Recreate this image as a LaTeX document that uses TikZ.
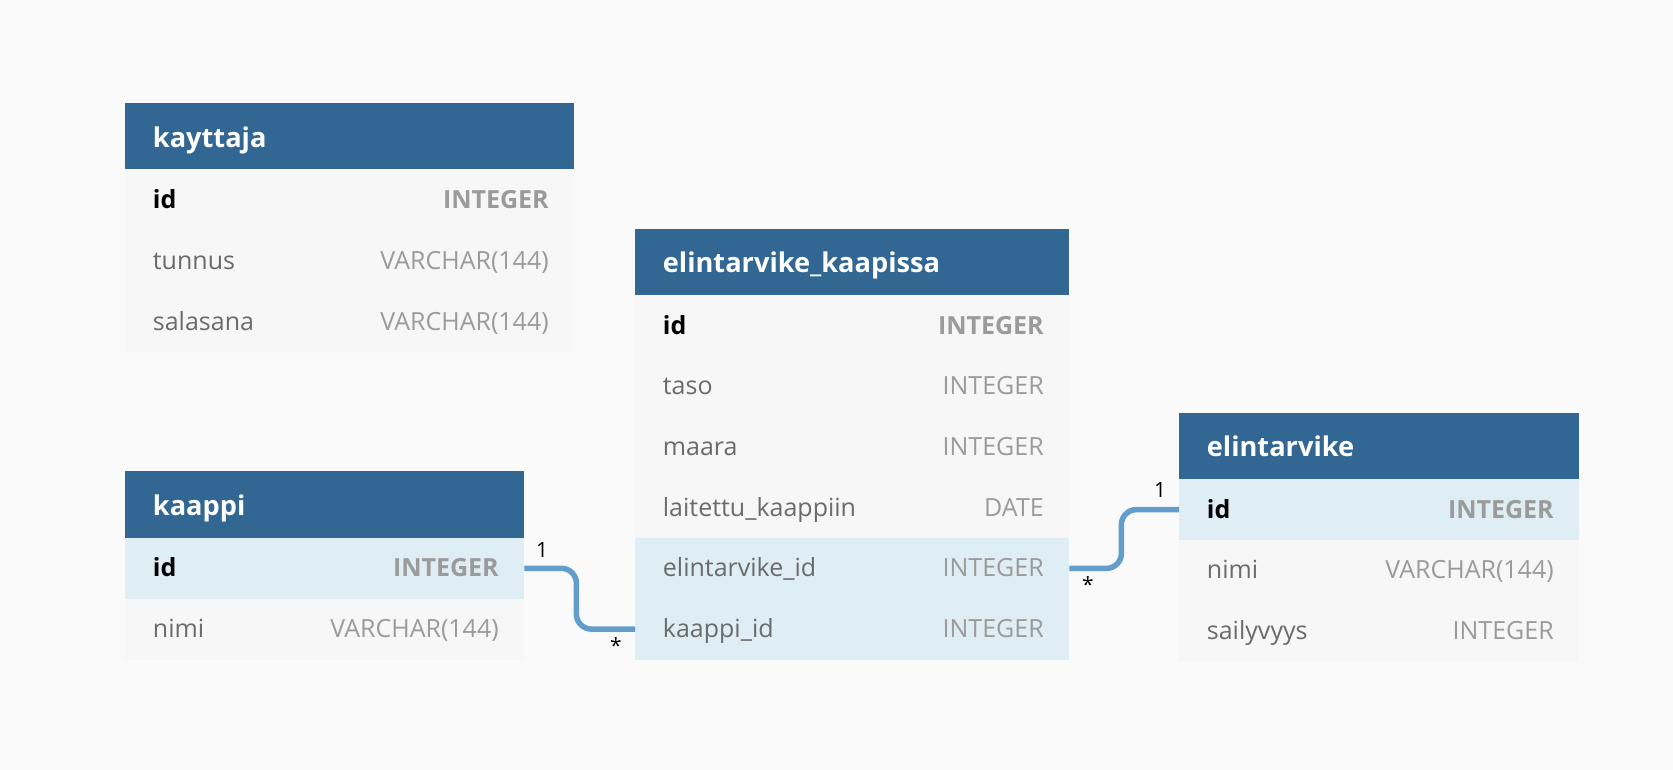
\documentclass[tikz,border=0pt]{standalone}
\usepackage{fontspec}
\setmainfont{Open Sans}
\usetikzlibrary{calc}
\definecolor{bgc}{HTML}{FAFAFA}
\definecolor{hdrc}{HTML}{316792}
\definecolor{rowc}{HTML}{F7F7F7}
\definecolor{hlc}{HTML}{DFEDF5}
\definecolor{relc}{HTML}{629DCC}
\definecolor{namec}{HTML}{6B6B6B}
\definecolor{typec}{HTML}{9B9B9B}
\tikzset{
  hdrbox/.style={rectangle, fill=hdrc, draw=none, inner sep=0pt, minimum height=66.5pt},
  hdrtext/.style={inner sep=0pt, text=white, font=\fontsize{27.2}{32}\selectfont\bfseries},
  rowbox/.style={rectangle, draw=none, inner sep=0pt, minimum height=60.8pt},
  pkname/.style={inner sep=0pt, text=black, font=\fontsize{25}{30}\selectfont\bfseries},
  pktype/.style={inner sep=0pt, text=typec, font=\fontsize{25}{30}\selectfont\bfseries},
  fdname/.style={inner sep=0pt, text=namec, font=\fontsize{25}{30}\selectfont},
  fdtype/.style={inner sep=0pt, text=typec, font=\fontsize{25}{30}\selectfont},
  rel/.style={draw=relc, line width=5.5pt, rounded corners=15pt},
  card/.style={inner sep=0pt, text=black, font=\fontsize{21}{24}\selectfont}
}
% #1 node name, #2 x, #3 top y, #4 width, #5 fill, #6 field, #7 type, #8 style prefix
\newcommand\erow[8]{%
  \node[rowbox, fill=#5, minimum width=#4, anchor=north west] (#1) at (#2,#3) {};
  \node[#8name, anchor=base west] (#1-n) at ($(#1.west)+(27.7,8.5)$) {#6};
  \node[#8type, anchor=base east] (#1-t) at ($(#1.east)+(-25.5,8.5)$) {#7};
}
% #1 node name, #2 x, #3 top y, #4 width, #5 title
\newcommand\ehead[5]{%
  \node[hdrbox, minimum width=#4, anchor=north west] (#1) at (#2,#3) {};
  \node[hdrtext, anchor=base west] (#1-t) at ($(#1.west)+(27.7,10.7)$) {#5};
}
\begin{document}
\begin{tikzpicture}[x=1pt, y=-1pt]
\fill[bgc] (0,0) rectangle (1673,770);
\useasboundingbox (0,0) rectangle (1673,770);
% kayttaja
\ehead{kay}{125}{103}{449}{kayttaja}
\erow{kayid}{125}{169.2}{449}{rowc}{id}{INTEGER}{pk}
\erow{kaytun}{125}{230.1}{449}{rowc}{tunnus}{VARCHAR(144)}{fd}
\erow{kaysal}{125}{291.0}{449}{rowc}{salasana}{VARCHAR(144)}{fd}
% elintarvike_kaapissa
\ehead{ek}{635}{228.5}{434}{elintarvike\_kaapissa}
\erow{ekid}{635}{295}{434}{rowc}{id}{INTEGER}{pk}
\erow{ektaso}{635}{355.7}{434}{rowc}{taso}{INTEGER}{fd}
\erow{ekmaara}{635}{416.4}{434}{rowc}{maara}{INTEGER}{fd}
\erow{eklait}{635}{477.1}{434}{rowc}{laitettu\_kaappiin}{DATE}{fd}
\erow{ekeid}{635}{537.8}{434}{hlc}{elintarvike\_id}{INTEGER}{fd}
\erow{ekkid}{635}{598.5}{434}{hlc}{kaappi\_id}{INTEGER}{fd}
% kaappi
\ehead{ka}{125}{471.2}{399}{kaappi}
\erow{kaid}{125}{537.7}{399}{hlc}{id}{INTEGER}{pk}
\erow{kanimi}{125}{598.5}{399}{rowc}{nimi}{VARCHAR(144)}{fd}
% elintarvike
\ehead{el}{1179}{412.5}{400}{elintarvike}
\erow{elid}{1179}{479}{400}{hlc}{id}{INTEGER}{pk}
\erow{elnimi}{1179}{539.8}{400}{rowc}{nimi}{VARCHAR(144)}{fd}
\erow{elsail}{1179}{600.6}{400}{rowc}{sailyvyys}{INTEGER}{fd}
% relations
\draw[rel] (kaid.east) -- ++(52,0) |- (ekkid.west);
\draw[rel] (ekeid.east) -- ++(52,0) |- (elid.west);
\node[card] (c1) at (542,550) {1};
\node[card] (c2) at (616,646) {*};
\node[card] (c3) at (1160,490) {1};
\node[card] (c4) at (1088,585) {*};
\end{tikzpicture}
\end{document}
